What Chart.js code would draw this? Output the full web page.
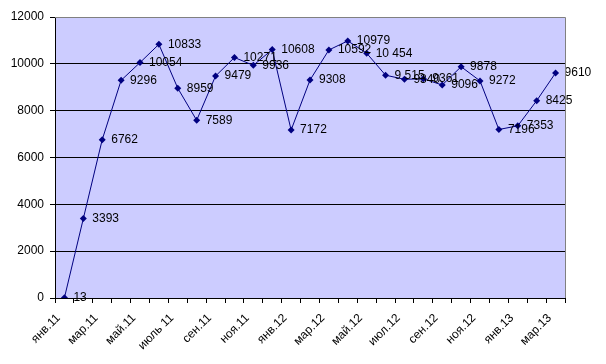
<!DOCTYPE html>
<html>
<head>
<meta charset="utf-8">
<script src="https://cdn.jsdelivr.net/npm/chart.js@4/dist/chart.umd.min.js"></script>
<style>
  html, body { margin: 0; padding: 0; background: #fff; }
  #wrap { width: 606px; height: 364px; }
</style>
</head>
<body>
<div id="wrap"><canvas id="chart" width="606" height="364"></canvas></div>
<script>
// monthly values, Jan 2011 .. Mar 2013
const months = [
  "янв.11", "фев.11", "мар.11", "апр.11", "май.11", "июн.11", "июль 11", "авг.11", "сен.11",
  "окт.11", "ноя.11", "дек.11", "янв.12", "фев.12", "мар.12", "апр.12", "май.12", "июн.12",
  "июл.12", "авг.12", "сен.12", "окт.12", "ноя.12", "дек.12", "янв.13", "фев.13", "мар.13"
];
const values = [
  13, 3393, 6762, 9296, 10054, 10833, 8959, 7589, 9479,
  10271, 9936, 10608, 7172, 9308, 10592, 10979, 10454, 9515,
  9340, 9361, 9096, 9878, 9272, 7196, 7353, 8425, 9610
];
// text shown next to each point (two of them were typed with a space)
const pointText = [
  "13", "3393", "6762", "9296", "10054", "10833", "8959", "7589", "9479",
  "10271", "9936", "10608", "7172", "9308", "10592", "10979", "10 454", "9 515",
  "9340", "9361", "9096", "9878", "9272", "7196", "7353", "8425", "9610"
];
const yTicks = [0, 2000, 4000, 6000, 8000, 10000, 12000];

const FONT = '"Liberation Sans", Arial, sans-serif';

const plotBg = {
  id: "plotBg",
  beforeDraw(chart) {
    const { ctx, chartArea: a } = chart;
    ctx.save();
    ctx.fillStyle = "#CCCCFF";
    ctx.fillRect(a.left, a.top, a.right - a.left, a.bottom - a.top);
    ctx.restore();
  },
  afterDraw(chart) {
    // grey frame on top and right like the original
    const { ctx, chartArea: a } = chart;
    ctx.save();
    ctx.strokeStyle = "#808080";
    ctx.lineWidth = 1;
    ctx.beginPath();
    ctx.moveTo(a.left, a.top + 0.5);
    ctx.lineTo(a.right + 0.5, a.top + 0.5);
    ctx.lineTo(a.right + 0.5, a.bottom);
    ctx.stroke();
    ctx.restore();
  },
};

const valueLabels = {
  id: "valueLabels",
  afterDatasetsDraw(chart) {
    const ctx = chart.ctx;
    const meta = chart.getDatasetMeta(0);
    ctx.save();
    ctx.font = "12px " + FONT;
    ctx.fillStyle = "#000";
    ctx.textAlign = "left";
    ctx.textBaseline = "middle";
    meta.data.forEach((pt, i) => {
      ctx.fillText(pointText[i], pt.x + 9, pt.y);
    });
    ctx.restore();
  },
};

new Chart(document.getElementById("chart"), {
  type: "line",
  data: {
    labels: months,
    datasets: [
      {
        data: values,
        borderColor: "#000080",
        backgroundColor: "#000080",
        borderWidth: 1,
        pointStyle: "rectRot",
        pointRadius: 3.5,
        pointBorderWidth: 0,
        tension: 0,
      },
    ],
  },
  options: {
    responsive: false,
    animation: false,
    devicePixelRatio: 1,
    layout: { padding: { left: 0, right: 41, top: 17, bottom: 0 } },
    plugins: { legend: { display: false }, tooltip: { enabled: false } },
    scales: {
      x: {
        offset: true,
        afterFit(scale) { scale.height = 66; },
        grid: { offset: true, drawOnChartArea: false, color: "#000", tickLength: 5 },
        border: { color: "#000" },
        ticks: {
          autoSkip: false,
          minRotation: 45,
          maxRotation: 45,
          color: "#000",
          font: { family: FONT, size: 12 },
          padding: 8,
          labelOffset: -6,
          callback: (v, i) => (i % 2 === 0 ? months[i] : ""),
        },
      },
      y: {
        min: 0,
        max: 12000,
        afterFit(scale) { scale.width = 55; },
        afterBuildTicks(scale) { scale.ticks = yTicks.map((v) => ({ value: v })); },
        grid: { color: "#000", tickLength: 5 },
        border: { color: "#000" },
        ticks: {
          color: "#000",
          font: { family: FONT, size: 12 },
          padding: 6,
          callback: (v) => String(v),
        },
      },
    },
  },
  plugins: [plotBg, valueLabels],
});
</script>
</body>
</html>
